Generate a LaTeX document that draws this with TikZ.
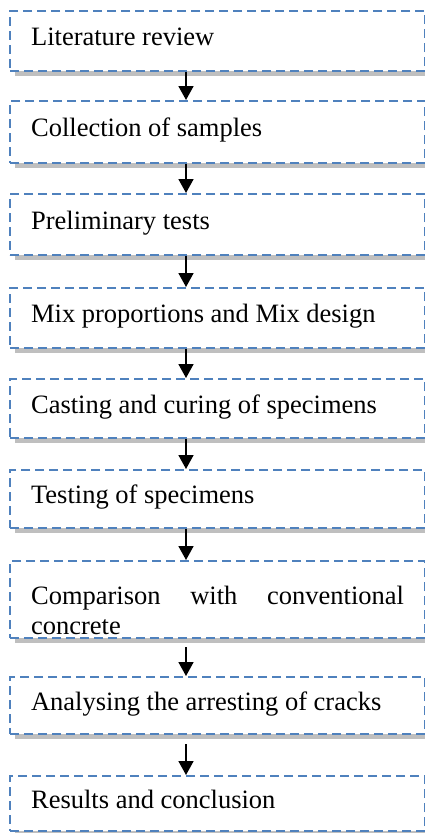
\documentclass[tikz,border=0pt]{standalone}
\usepackage{fontspec}
\setmainfont{Liberation Serif}
\usetikzlibrary{shadows,arrows.meta}
\definecolor{boxblue}{HTML}{4F81BD}
\definecolor{shadegray}{HTML}{BFBFBF}
\begin{document}
\begin{tikzpicture}[x=1pt,y=1pt,
  stepbox/.style={draw=boxblue, line width=2.2pt, dash pattern=on 9pt off 5pt,
    fill=white, anchor=north west, text width=373pt, inner xsep=21pt, inner ysep=0pt,
    align=justify, text height=19pt, text depth=10pt,
    font=\fontsize{26.5}{30}\selectfont,
    drop shadow={shadow xshift=5pt, shadow yshift=-5pt, fill=shadegray, opacity=1}},
  flow/.style={line width=1.8pt, -{Triangle[length=14pt,width=15pt]}}]
\useasboundingbox (0,0) rectangle (425,-833);
\coordinate (ax) at (186,0);
\node[stepbox, minimum height=60pt] (b1) at (9,-10) {Literature review};
\node[stepbox, minimum height=62pt] (b2) at (9,-100) {Collection of samples};
\node[stepbox, minimum height=61pt] (b3) at (9,-193) {Preliminary tests};
\node[stepbox, minimum height=60pt] (b4) at (9,-287) {Mix proportions and Mix design};
\node[stepbox, minimum height=59pt] (b5) at (9,-378) {Casting and curing of specimens};
\node[stepbox, minimum height=58pt] (b6) at (9,-469) {Testing of specimens};
\node[stepbox, minimum height=77pt] (b7) at (9,-560) {Comparison with conventional\linebreak concrete};
\node[stepbox, minimum height=57pt] (b8) at (9,-676) {Analysing the arresting of cracks};
\node[stepbox, minimum height=55pt] (b9) at (9,-775) {Results and conclusion};
\draw[flow] (b1.south -| ax) -- (b2.north -| ax);
\draw[flow] (b2.south -| ax) -- (b3.north -| ax);
\draw[flow] (b3.south -| ax) -- (b4.north -| ax);
\draw[flow] (b4.south -| ax) -- (b5.north -| ax);
\draw[flow] (b5.south -| ax) -- (b6.north -| ax);
\draw[flow] (b6.south -| ax) -- (b7.north -| ax);
\draw[flow, shorten <=8pt] (b7.south -| ax) -- (b8.north -| ax);
\draw[flow, shorten <=9pt] (b8.south -| ax) -- (b9.north -| ax);
\end{tikzpicture}
\end{document}
